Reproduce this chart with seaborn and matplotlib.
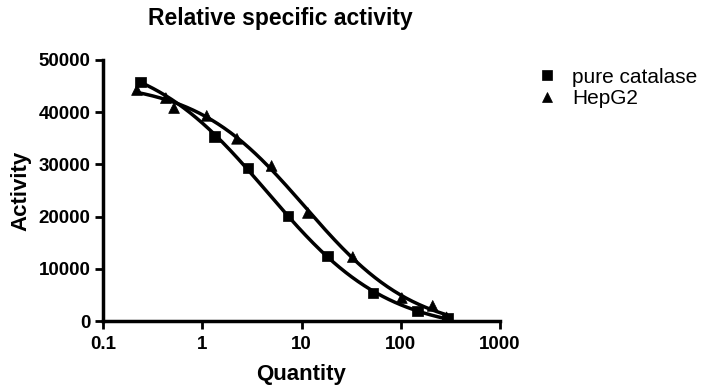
import numpy as np
import pandas as pd
import matplotlib
matplotlib.use("Agg")
import matplotlib.pyplot as plt
import seaborn as sns

# values
catalase_qty = [0.24, 1.34, 2.89, 7.3, 18.4, 52.4, 148.6, 295]
catalase_act = [45800, 35300, 29300, 20100, 12450, 5360, 1900, 550]
hepg2_qty = [0.22, 0.43, 0.52, 1.11, 2.24, 5.0, 11.6, 32.9, 102.6, 210, 290]
hepg2_act = [44250, 42700, 40800, 39300, 34900, 29700, 20700, 12250, 4400, 2900, 700]

series_names = ["pure catalase", "HepG2"]
x_ticks = [0.1, 1, 10, 100, 1000]
x_tick_labels = ["0.1", "1", "10", "100", "1000"]
y_ticks = [0, 10000, 20000, 30000, 40000, 50000]

df = pd.concat([
    pd.DataFrame({"Quantity": catalase_qty, "Activity": catalase_act, "series": series_names[0]}),
    pd.DataFrame({"Quantity": hepg2_qty, "Activity": hepg2_act, "series": series_names[1]}),
])


def fit_dose_response(x, y):
    # 4-parameter logistic on log10(x): grid over logEC50 / hill, linear solve for top/bottom
    lx = np.log10(np.asarray(x, float))
    y = np.asarray(y, float)
    logec = np.arange(-1, 3, 0.005)[:, None, None]
    hill = np.arange(0.3, 2.0, 0.005)[None, :, None]
    f = 1.0 / (1.0 + 10 ** ((lx[None, None, :] - logec) * hill))
    fm = f.mean(-1, keepdims=True)
    ym = y.mean()
    a = ((f - fm) * (y - ym)).sum(-1) / ((f - fm) ** 2).sum(-1)
    b = ym - a * fm[..., 0]
    pred = b[..., None] + a[..., None] * f
    sse = ((pred - y) ** 2).sum(-1)
    i, j = np.unravel_index(np.argmin(sse), sse.shape)
    return logec[i, 0, 0], hill[0, j, 0], b[i, j], a[i, j]


def curve(x, params):
    logec, hill, b, a = params
    xs = np.logspace(np.log10(min(x)), np.log10(max(x)), 200)
    return xs, b + a / (1.0 + 10 ** ((np.log10(xs) - logec) * hill))


sns.set_style("ticks")
plt.rcParams["font.family"] = ["Liberation Sans", "DejaVu Sans"]
plt.rcParams["text.color"] = "black"
plt.rcParams["axes.labelcolor"] = "black"
plt.rcParams["xtick.color"] = "black"
plt.rcParams["ytick.color"] = "black"
plt.rcParams["axes.edgecolor"] = "black"

fig = plt.figure(figsize=(7.02, 3.86), dpi=100)
ax = fig.add_axes([103 / 702, 1 - 321 / 386, 397 / 702, 261 / 386])

for name, qx, qy in [(series_names[0], catalase_qty, catalase_act),
                     (series_names[1], hepg2_qty, hepg2_act)]:
    xs, ys = curve(qx, fit_dose_response(qx, qy))
    sns.lineplot(x=xs, y=ys, ax=ax, color="black", linewidth=2.5, legend=False)

sns.scatterplot(data=df, x="Quantity", y="Activity", style="series",
                markers={"pure catalase": "s", "HepG2": "^"},
                color="black", s=60, edgecolor="black", linewidth=0.5,
                ax=ax, zorder=5)

ax.set_xscale("log")
ax.set_xlim(0.1, 1000)
ax.set_ylim(0, 50000)
ax.set_xticks(x_ticks)
ax.set_xticklabels(x_tick_labels)
ax.minorticks_off()
ax.set_yticks(y_ticks)
ax.tick_params(axis="both", direction="out", length=6, width=2, labelsize=13.5, pad=3)
ax.tick_params(axis="x", pad=5)
for lab in ax.get_xticklabels() + ax.get_yticklabels():
    lab.set_fontweight("bold")
for s in ["left", "bottom"]:
    ax.spines[s].set_linewidth(2.5)
sns.despine(ax=ax)

ax.set_xlabel("Quantity", fontsize=16, fontweight="bold", labelpad=8)
ax.set_ylabel("Activity", fontsize=16, fontweight="bold", labelpad=5)
fig.text(280 / 702, 1 - 18 / 386, "Relative specific activity", fontsize=16.5,
         fontweight="bold", ha="center", va="center")

handles, labels = ax.get_legend_handles_labels()
leg = ax.legend(handles, labels, loc="upper left",
                bbox_to_anchor=(518 / 702, 1 - 49 / 386),
                bbox_transform=fig.transFigure,
                frameon=False, fontsize=15, handlelength=1.0, handletextpad=0.7,
                labelspacing=0.12, markerscale=0.85)

fig.savefig("out.png", dpi=100)
